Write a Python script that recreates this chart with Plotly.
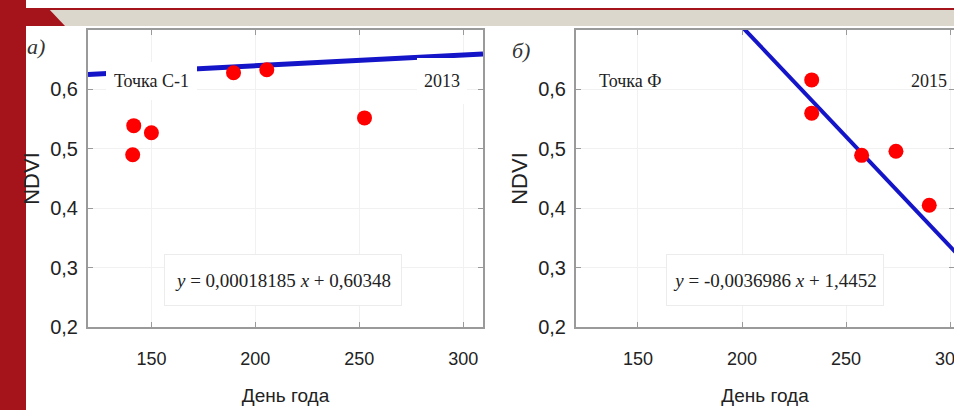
import plotly.graph_objects as go

# ---------------- data ----------------
days_a = [141, 141.5, 150, 189.5, 205.5, 252.5]
ndvi_a = [0.490, 0.539, 0.527, 0.628, 0.633, 0.552]
trend_days_a = [119.5, 309.5]
trend_ndvi_a = [0.6252, 0.6598]

days_b = [233.5, 233.5, 257.5, 274, 290]
ndvi_b = [0.616, 0.560, 0.489, 0.496, 0.405]
trend_days_b = [190, 310]
trend_ndvi_b = [0.7425, 0.2986]

x_ticks = [150, 200, 250, 300]
y_ticks = [0.2, 0.3, 0.4, 0.5, 0.6]

eq_a = "<i>y</i> = 0,00018185 <i>x</i> + 0,60348"
eq_b = "<i>y</i> = -0,0036986 <i>x</i> + 1,4452"
name_a = "Точка С-1"
name_b = "Точка Ф"
year_a = "2013"
year_b = "2015"
x_title = "День года"
y_title = "NDVI"

# ---------------- layout helpers ----------------
W, H = 954, 410
ML, MR, MT, MB = 88, 0, 30, 83
PW, PH = W - ML - MR, H - MT - MB


def px(x):
    return (x - ML) / PW


def py(y):
    return (H - MB - y) / PH


RED = "#FF0000"
BLUE = "#1414C8"
DARKRED = "#A5141A"
BAND = "#DCD7CD"
SANS = "Liberation Sans, Arial, sans-serif"
SERIF = "Liberation Serif, Times New Roman, serif"

fig = go.Figure()

fig.add_trace(go.Scatter(x=trend_days_a, y=trend_ndvi_a, mode="lines",
                         line=dict(color=BLUE, width=5), xaxis="x", yaxis="y",
                         showlegend=False))
fig.add_trace(go.Scatter(x=days_a, y=ndvi_a, mode="markers",
                         marker=dict(color=RED, size=15), xaxis="x", yaxis="y",
                         showlegend=False))
fig.add_trace(go.Scatter(x=trend_days_b, y=trend_ndvi_b, mode="lines",
                         line=dict(color=BLUE, width=4), xaxis="x2", yaxis="y2",
                         showlegend=False))
fig.add_trace(go.Scatter(x=days_b, y=ndvi_b, mode="markers",
                         marker=dict(color=RED, size=15), xaxis="x2", yaxis="y2",
                         showlegend=False))

axis_common = dict(showline=True, linecolor="#9a9a9a", linewidth=2, mirror="ticks",
                   ticks="inside", ticklen=5, tickcolor="#9a9a9a", tickwidth=1,
                   showgrid=True, gridcolor="#f1f1f1", gridwidth=1, zeroline=False,
                   automargin=False)

xa = dict(axis_common, tickvals=x_ticks, ticklabelstandoff=14, ticklabeloverflow="allow",
          tickfont=dict(family=SANS, size=18, color="#222"),
          title=dict(text=x_title, font=dict(family=SANS, size=19, color="#222"), standoff=21))
ya = dict(axis_common, tickvals=y_ticks, tickformat=".1f", range=[0.2, 0.7],
          ticklabelstandoff=4,
          tickfont=dict(family=SANS, size=20, color="#222"),
          title=dict(text=y_title, font=dict(family=SANS, size=22, color="#222"), standoff=4))

fig.update_layout(
    width=W, height=H,
    margin=dict(l=ML, r=MR, t=MT, b=MB),
    paper_bgcolor="white", plot_bgcolor="white",
    separators=", ",
    xaxis=dict(xa, domain=[0, px(483)], range=[119.5, 309.5], anchor="y"),
    yaxis=dict(ya, domain=[0, 1], anchor="x"),
    xaxis2=dict(xa, domain=[px(576), 1], range=[120.2, 301.9], anchor="y2"),
    yaxis2=dict(ya, domain=[0, 1], anchor="x2"),
)

ann = []
# legend-like labels with white boxes
ann.append(dict(text=name_a, x=px(151.5), y=py(81), width=91, height=38,
                bgcolor="white", borderpad=0, borderwidth=0))
ann.append(dict(text=year_a, x=px(442), y=py(81), width=50, height=46,
                bgcolor="white", borderpad=0, borderwidth=0))
ann.append(dict(text=name_b, x=px(630), y=py(81)))
ann.append(dict(text=year_b, x=px(929), y=py(81)))
for a in ann:
    a.update(xref="paper", yref="paper", xanchor="center", yanchor="middle",
             showarrow=False, font=dict(family=SERIF, size=18, color="#222"))

eqs = [dict(text=eq_a, x=px(283), y=py(280), width=236, height=50),
       dict(text=eq_b, x=px(775), y=py(280), width=216, height=50)]
for a in eqs:
    a.update(xref="paper", yref="paper", xanchor="center", yanchor="middle",
             showarrow=False, bgcolor="white", bordercolor="#ececec", borderwidth=1,
             borderpad=0, font=dict(family=SERIF, size=19, color="#222"))
ann += eqs

panels = [dict(text="<i>а)</i>", x=px(36), y=py(47)),
          dict(text="<i>б)</i>", x=px(521), y=py(50))]
for a in panels:
    a.update(xref="paper", yref="paper", xanchor="center", yanchor="middle",
             showarrow=False, font=dict(family=SERIF, size=22, color="#333"))
ann += panels
fig.update_layout(annotations=ann)

# slide decoration (red bar, band, thin red line)
shapes = [
    dict(type="rect", x0=px(0), x1=px(26), y0=py(H), y1=py(0),
         fillcolor=DARKRED, line=dict(width=0)),
    dict(type="rect", x0=px(26), x1=px(W), y0=py(26), y1=py(10),
         fillcolor=BAND, line=dict(width=0)),
    dict(type="rect", x0=px(26), x1=px(W), y0=py(10), y1=py(8),
         fillcolor=DARKRED, line=dict(width=0)),
    dict(type="path",
         path=f"M {px(26)} {py(8)} L {px(48)} {py(8)} L {px(65)} {py(26)} L {px(26)} {py(26)} Z",
         fillcolor=DARKRED, line=dict(width=0)),
]
for s in shapes:
    s.update(xref="paper", yref="paper", layer="above")
fig.update_layout(shapes=shapes)

fig.write_html("out.html", config={"displayModeBar": False},
               post_script="document.body.style.margin='0';document.body.style.overflow='hidden';")
